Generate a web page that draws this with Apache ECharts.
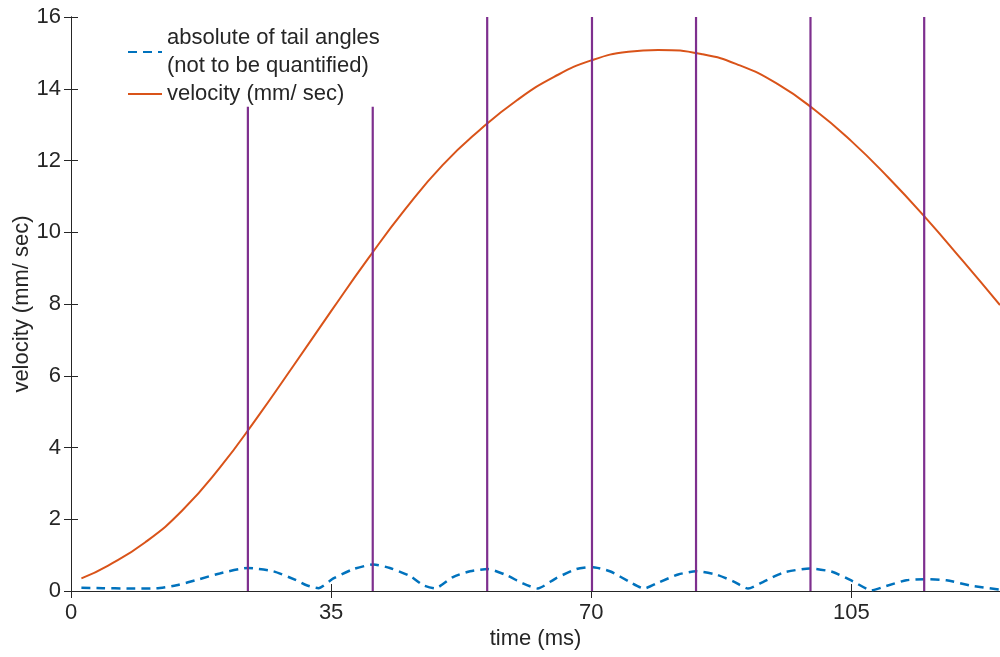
<!DOCTYPE html>
<html>
<head>
<meta charset="utf-8">
<script src="https://cdn.jsdelivr.net/npm/echarts@6/dist/echarts.min.js"></script>
<style>html,body{margin:0;padding:0;background:#fff}#c{width:1000px;height:657px}</style>
</head>
<body>
<div id="c"></div>
<script>
// velocity (mm/ sec)
const velT = [1.4, 5, 10, 15, 20, 25, 30, 35, 40, 45, 50, 55, 60, 65, 70, 75, 79, 85, 90, 95, 100, 105, 110, 115, 120, 125];
const velV = [0.35, 0.71, 1.36, 2.25, 3.43, 4.82, 6.30, 7.80, 9.27, 10.65, 11.87, 12.85, 13.68, 14.33, 14.79, 15.03, 15.08, 14.96, 14.65, 14.14, 13.42, 12.54, 11.52, 10.40, 9.20, 7.97];
// absolute of tail angles
const tailT = [1.4, 4.3, 7.5, 11.5, 14.2, 17.3, 20.0, 23.8, 27.2, 30.3, 31.7, 33.3, 35.3, 38.0, 40.7, 42.9, 45.6, 47.4, 49.0, 51.4, 53.7, 56.1, 58.6, 60.8, 62.8, 65.3, 68.0, 70.0, 72.5, 75.2, 77.1, 79.2, 81.7, 84.1, 86.8, 89.1, 91.1, 93.1, 95.8, 99.4, 102.5, 105.2, 107.7, 109.7, 112.4, 114.8, 117.8, 121.3, 124.9];
const tailV = [0.09, 0.08, 0.07, 0.075, 0.16, 0.33, 0.49, 0.64, 0.55, 0.30, 0.16, 0.08, 0.35, 0.61, 0.74, 0.64, 0.42, 0.16, 0.075, 0.39, 0.55, 0.61, 0.44, 0.21, 0.07, 0.36, 0.61, 0.67, 0.55, 0.25, 0.07, 0.25, 0.46, 0.55, 0.46, 0.27, 0.07, 0.25, 0.51, 0.63, 0.53, 0.27, 0.02, 0.14, 0.30, 0.33, 0.30, 0.14, 0.04];
// vertical markers
const markT = [23.8, 40.6, 56.0, 70.1, 84.1, 99.5, 114.8];
const markH = [13.5, 13.5, 16, 16, 16, 16, 16];
// axis ticks
const xTicks = [0, 35, 70, 105];
const yTicks = [0, 2, 4, 6, 8, 10, 12, 14, 16];

const FONT = '"Liberation Sans", Arial, Helvetica, sans-serif';
const FS = 22;
const TXT = '#262626';
const AX = '#262626';

const zip = (a, b) => a.map((v, i) => [v, b[i]]);

const series = [
  {
    name: 'absolute of tail angles\n(not to be quantified)',
    type: 'line', data: zip(tailT, tailV), symbol: 'none', smooth: 0.2,
    lineStyle: { color: '#0072BD', width: 2.5, type: [9, 6] },
    itemStyle: { color: '#0072BD' }, z: 3
  },
  {
    name: 'velocity (mm/ sec)',
    type: 'line', data: zip(velT, velV), symbol: 'none', smooth: 0.5,
    lineStyle: { color: '#D95319', width: 2 },
    itemStyle: { color: '#D95319' }, z: 3
  }
];
markT.forEach((t, i) => {
  series.push({
    name: 'm' + i, type: 'line', data: [[t, 0], [t, markH[i]]], symbol: 'none',
    lineStyle: { color: '#7E2F8E', width: 2.2 }, z: 4, silent: true
  });
});

const chart = echarts.init(document.getElementById('c'), null, { renderer: 'canvas' });
chart.setOption({
  animation: false,
  backgroundColor: '#fff',
  textStyle: { fontFamily: FONT },
  grid: { left: 71, right: 0, top: 17, bottom: 66, containLabel: false, outerBoundsMode: 'none' },
  legend: {
    data: [series[0].name, series[1].name],
    orient: 'vertical', left: 127, top: 24, itemGap: 0, padding: 0,
    itemWidth: 34, itemHeight: 14,
    itemStyle: { opacity: 0 },
    textStyle: { fontSize: FS, color: TXT, lineHeight: 28, fontFamily: FONT }
  },
  xAxis: [
    {
      type: 'value', min: 0, max: 125, interval: 35,
      name: 'time (ms)', nameLocation: 'middle', nameGap: 37, nameMoveOverlap: false,
      nameTextStyle: { fontSize: FS, color: TXT, fontFamily: FONT },
      axisLine: { show: true, lineStyle: { color: AX, width: 1 } },
      axisTick: { show: true, inside: true, length: 7, lineStyle: { color: AX } },
      axisLabel: { fontSize: FS, color: TXT, margin: 11, showMaxLabel: false, fontFamily: FONT,
        formatter: v => xTicks.includes(v) ? String(v) : '' },
      splitLine: { show: false }
    },
    {
      type: 'value', min: 0, max: 125, interval: 35, position: 'top',
      axisLine: { show: true, lineStyle: { color: AX, width: 1 } },
      axisTick: { show: true, inside: true, length: 7, lineStyle: { color: AX } },
      axisLabel: { show: false }, splitLine: { show: false }
    }
  ],
  yAxis: [
    {
      type: 'value', min: 0, max: 16, interval: 2,
      name: 'velocity (mm/ sec)', nameLocation: 'middle', nameGap: 38, nameRotate: 90, nameMoveOverlap: false,
      nameTextStyle: { fontSize: FS, color: TXT, fontFamily: FONT },
      axisLine: { show: true, lineStyle: { color: AX, width: 1 } },
      axisTick: { show: true, inside: true, length: 7, lineStyle: { color: AX } },
      axisLabel: { fontSize: FS, color: TXT, margin: 10, fontFamily: FONT,
        formatter: v => yTicks.includes(v) ? String(v) : '' },
      splitLine: { show: false }
    },
    {
      type: 'value', min: 0, max: 16, interval: 2, position: 'right',
      axisLine: { show: true, lineStyle: { color: AX, width: 1 } },
      axisTick: { show: true, inside: true, length: 7, lineStyle: { color: AX } },
      axisLabel: { show: false }, splitLine: { show: false }
    }
  ],
  series: series
});
</script>
</body>
</html>
